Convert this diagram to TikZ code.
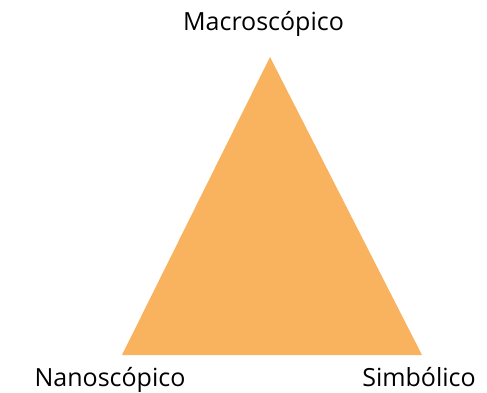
\documentclass[tikz,border=0pt]{standalone}
\usepackage{fontspec}
\setmainfont{Open Sans}
\definecolor{tri}{HTML}{F9B35E}
\begin{document}
\begin{tikzpicture}[x=1pt,y=-1pt,
  lbl/.style={anchor=base,inner sep=0pt,font=\fontsize{25}{29}\selectfont}]
\useasboundingbox (0,0) rectangle (487,393);
\coordinate (top) at (270,57);
\coordinate (bl) at (122,355);
\coordinate (br) at (422,355);
\fill[tri] (top) -- (bl) -- (br) -- cycle;
\node[lbl] (macro) at (263.5,31) {Macroscópico};
\node[lbl] (nano) at (110,386) {Nanoscópico};
\node[lbl] (simb) at (419,386) {Simbólico};
\end{tikzpicture}
\end{document}
